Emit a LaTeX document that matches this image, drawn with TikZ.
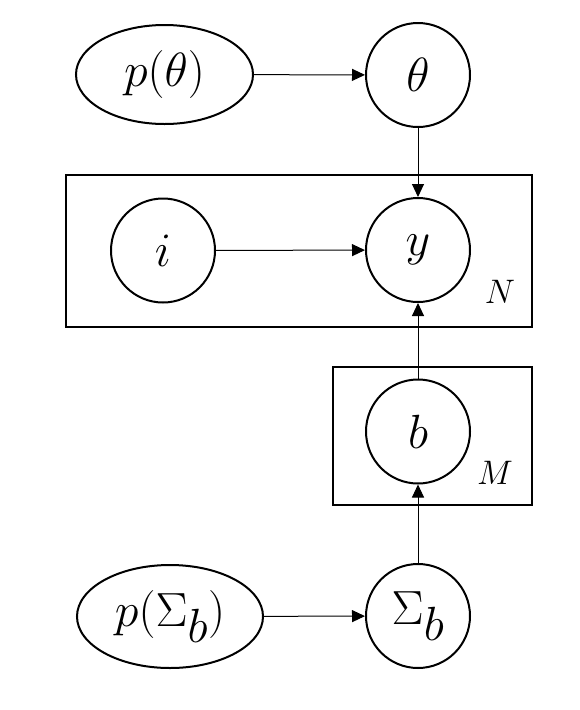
\RequirePackage{fix-cm}
\documentclass[tikz,border=0pt]{standalone}
\usetikzlibrary{shapes.geometric,arrows.meta}
\begin{document}
\begin{tikzpicture}[x=1pt,y=-1pt,
  var/.style={draw,circle,line width=2pt,minimum size=104pt,inner sep=0pt,font=\fontsize{48}{56}\selectfont},
  prior/.style={draw,ellipse,line width=2pt,inner sep=0pt,font=\fontsize{48}{56}\selectfont},
  plate/.style={draw,rectangle,line width=2.6pt,inner sep=0pt},
  platelabel/.style={font=\fontsize{34}{40}\selectfont,inner sep=0pt},
  arr/.style={-{Triangle[length=13pt,width=12pt]},line width=1pt}]
\useasboundingbox (0,0) rectangle (580,710);
\node[plate,minimum width=466pt,minimum height=152pt] (plateN) at (299,251) {};
\node[plate,minimum width=199pt,minimum height=138pt] (plateM) at (432.5,436) {};
\node[prior,minimum width=177pt,minimum height=99pt] (ptheta) at (164.5,74.5) {$p(\theta)$};
\node[var] (theta) at (418,75) {$\theta$};
\node[var] (i) at (163,250.5) {$i$};
\node[var] (y) at (418,250) {$y$};
\node[var] (b) at (418,431.5) {$b$};
\node[prior,minimum width=186pt,minimum height=103pt] (psigma) at (170,616.5) {$p(\Sigma_{\textstyle b})$};
\node[var] (sigma) at (418,616) {$\Sigma_{\textstyle b}$};
\node[platelabel] (labN) at (500,292) {$N$};
\node[platelabel] (labM) at (495,473) {$M$};
\draw[arr] (ptheta) -- (theta);
\draw[arr] (theta) -- (y);
\draw[arr] (i) -- (y);
\draw[arr] (b) -- (y);
\draw[arr] (sigma) -- (b);
\draw[arr] (psigma) -- (sigma);
\end{tikzpicture}
\end{document}
